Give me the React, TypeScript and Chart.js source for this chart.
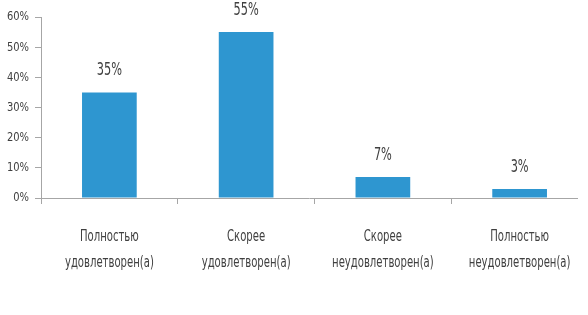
import React, { useEffect, useRef } from "react";
import { Chart, registerables } from "chart.js";

Chart.register(...registerables);

const categories: string[][] = [
  ["Полностью", "удовлетворен(а)"],
  ["Скорее", "удовлетворен(а)"],
  ["Скорее", "неудовлетворен(а)"],
  ["Полностью", "неудовлетворен(а)"],
];
const values: number[] = [35, 55, 7, 3];
const yTicks: number[] = [0, 10, 20, 30, 40, 50, 60];

const FONT = "'DejaVu Sans Condensed', 'DejaVu Sans', sans-serif";
const TEXT = "#404040";
const AXIS = "#a6a6a6";
const BAR = "#2e96d0";
const X_AXIS_END = 578;

function drawText(ctx: CanvasRenderingContext2D, text: string, x: number, y: number, size: number, sx: number, align: CanvasTextAlign) {
  ctx.save();
  ctx.font = `${size}px ${FONT}`;
  ctx.fillStyle = TEXT;
  ctx.textAlign = align;
  ctx.textBaseline = "middle";
  ctx.translate(x, y);
  ctx.scale(sx, 1);
  ctx.fillText(text, 0, 0);
  ctx.restore();
}

const textPlugin = {
  id: "textPlugin",
  afterDraw(chart: any) {
    const ctx = chart.ctx;
    const area = chart.chartArea;
    ctx.save();
    ctx.strokeStyle = AXIS;
    ctx.lineWidth = 1;
    ctx.beginPath();
    ctx.moveTo(area.left, Math.round(area.bottom) + 0.5);
    ctx.lineTo(X_AXIS_END, Math.round(area.bottom) + 0.5);
    ctx.stroke();
    ctx.restore();

    const meta = chart.getDatasetMeta(0);
    meta.data.forEach((el: any, i: number) => {
      drawText(ctx, values[i] + "%", el.x, el.y - 22, 18, 0.7, "center");
    });
    const xs = chart.scales.x;
    categories.forEach((lines, i) => {
      const x = xs.getPixelForValue(i);
      lines.forEach((line, j) => {
        drawText(ctx, line, x, 237 + j * 26, 16, 0.7, "center");
      });
    });
    const ys = chart.scales.y;
    yTicks.forEach((v) => {
      drawText(ctx, v + "%", 29, ys.getPixelForValue(v), 13, 0.85, "right");
    });
  },
};

export default function App() {
  const ref = useRef<HTMLCanvasElement>(null);
  useEffect(() => {
    if (!ref.current) return;
    const chart = new Chart(ref.current, {
      type: "bar",
      data: {
        labels: categories.map((c) => c.join(" ")),
        datasets: [
          {
            data: values,
            backgroundColor: BAR,
            borderWidth: 0,
            barPercentage: 0.8,
            categoryPercentage: 0.5,
          },
        ],
      },
      options: {
        responsive: false,
        animation: false,
        plugins: { legend: { display: false }, tooltip: { enabled: false } },
        layout: { padding: { top: 17, right: 0, left: 0, bottom: 0 } },
        scales: {
          x: {
            grid: {
              display: true,
              drawOnChartArea: false,
              drawTicks: true,
              tickLength: 6,
              offset: true,
              color: AXIS,
            },
            border: { display: false },
            ticks: { display: false },
            afterFit: (s: any) => {
              s.height = 117;
            },
          },
          y: {
            min: yTicks[0],
            max: yTicks[yTicks.length - 1],
            ticks: { stepSize: 10, display: false },
            grid: {
              drawOnChartArea: false,
              drawTicks: true,
              tickLength: 6,
              color: AXIS,
            },
            border: { color: AXIS },
            afterFit: (s: any) => {
              s.width = 41;
            },
          },
        },
      },
      plugins: [textPlugin],
    });
    return () => chart.destroy();
  }, []);
  return (
    <div style={{ position: "fixed", left: 0, top: 0, width: 588, height: 315, background: "#fff" }}>
      <canvas ref={ref} width={588} height={315} />
    </div>
  );
}
